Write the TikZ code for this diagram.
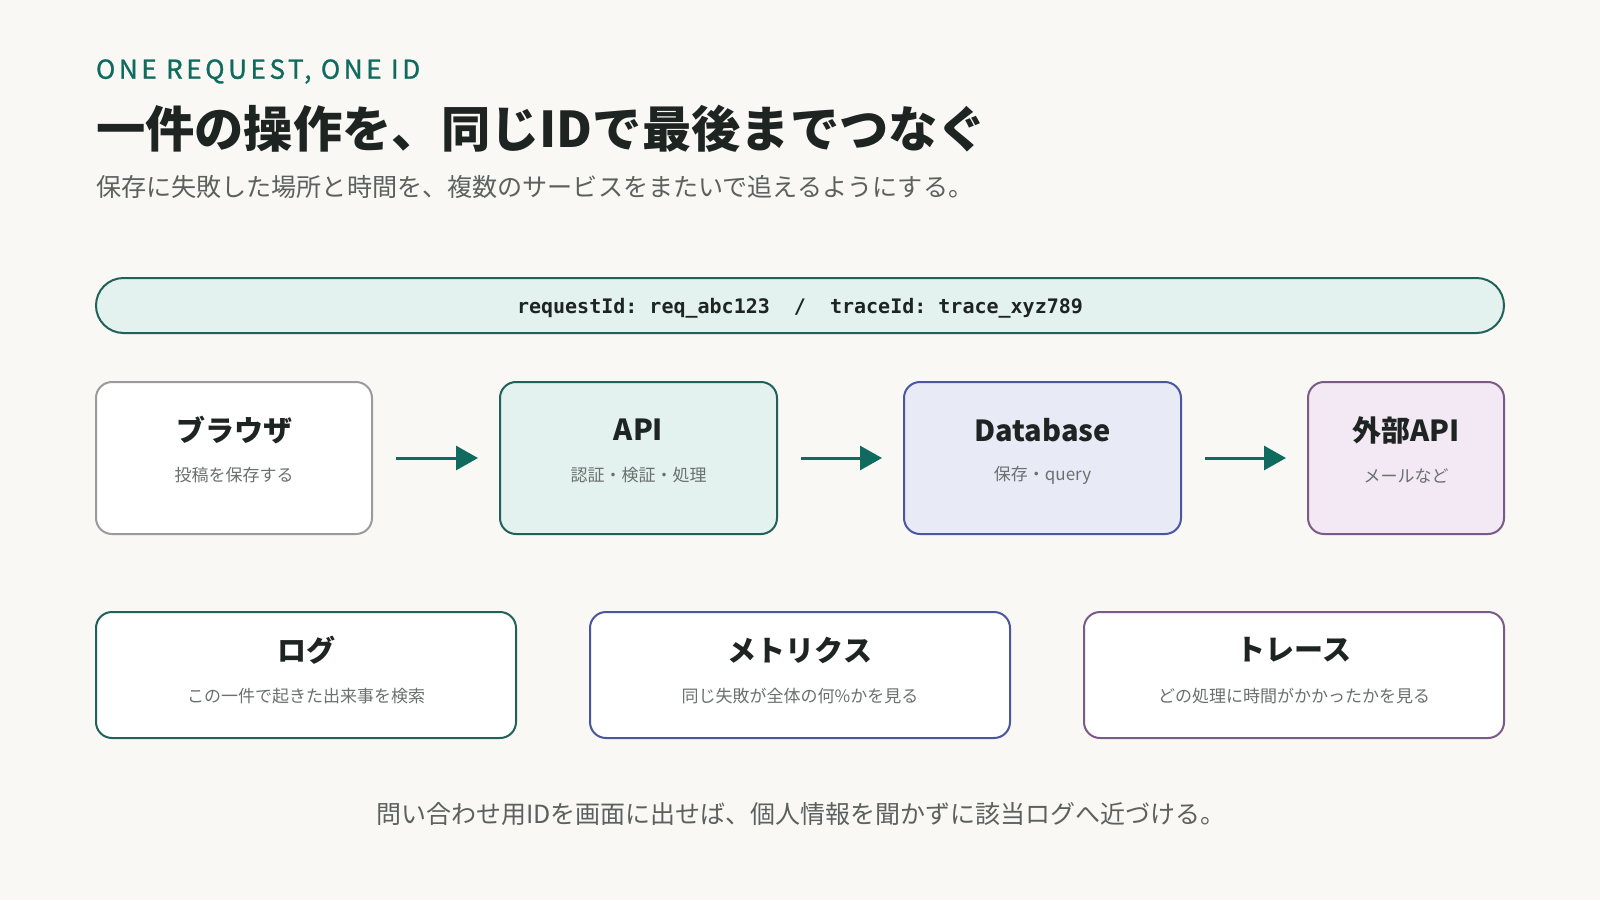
\documentclass[tikz,border=0pt]{standalone}
\usepackage{fontspec}
\setmainfont{Noto Sans CJK JP}
\newfontfamily\idfont{DejaVu Sans Mono}
\newfontfamily\kickerfont[LetterSpace=14,FakeBold=1.2]{Noto Sans CJK JP}
\usetikzlibrary{positioning,arrows.meta}
\definecolor{paper}{HTML}{F9F8F5}
\definecolor{ink}{HTML}{1E2422}
\definecolor{muted}{HTML}{5C615E}
\definecolor{soft}{HTML}{6B706D}
\definecolor{tealc}{HTML}{0F6B5E}
\definecolor{tealline}{HTML}{22605A}
\definecolor{tealfill}{HTML}{E3F2EE}
\definecolor{indline}{HTML}{4A56A0}
\definecolor{indfill}{HTML}{E8EAF6}
\definecolor{plmline}{HTML}{7A5A86}
\definecolor{plmfill}{HTML}{F3E9F4}
\definecolor{greyline}{HTML}{9B9B9B}
\frenchspacing

\begin{document}
\begin{tikzpicture}[x=1pt,y=-1pt,every node/.append style={inner sep=0pt,outer sep=0pt},
                    card/.style={draw,line width=2pt,rounded corners=16pt,fill=white},
                    cardtitle/.style={font=\fontsize{29}{32}\selectfont\bfseries,text=ink},
                    cardsub/.style={font=\fontsize{17}{20}\selectfont,text=soft},
                    flow/.style={line width=3pt,draw=tealc,-{Triangle[length=22pt,width=24pt]},
                                 shorten <=24pt,shorten >=22pt}]
    \fill[paper] (0,0) rectangle (1600,900);
    \node[anchor=west,text=tealc,font=\kickerfont\fontsize{26}{30}\selectfont] (kicker) at (96,71.5) {ONE REQUEST, ONE ID};
    \node[anchor=west,text=ink,font=\fontsize{49.3}{56}\selectfont\bfseries] (headline) at (96,129) {一件の操作を、同じIDで最後までつなぐ};
    \node[anchor=west,text=muted,font=\fontsize{25.1}{28}\selectfont] (lead) at (96,187) {保存に失敗した場所と時間を、複数のサービスをまたいで追えるようにする。};
    \node[draw=tealline,fill=tealfill,line width=2pt,rounded corners=27.5pt,
          minimum width=1408pt,minimum height=55pt] (ids) at (800,305.5) {};
    \node[text=ink,font=\idfont\fontsize{20}{24}\selectfont\bfseries] (idtext) at ([yshift=-3pt]ids.center)
          {requestId: req\_abc123\ \ /\ \ traceId: trace\_xyz789};
    \begin{scope}[every node/.append style={minimum height=152pt}]
      \node[card,draw=greyline,minimum width=276pt] (browser) at (234,458) {};
      \node[card,draw=tealline,fill=tealfill,minimum width=277pt] (api) at (638.5,458) {};
      \node[card,draw=indline,fill=indfill,minimum width=277pt] (db) at (1042.5,458) {};
      \node[card,draw=plmline,fill=plmfill,minimum width=196pt] (ext) at (1406,458) {};
    \end{scope}
    \node[cardtitle] (browsert) at ([yshift=28pt]browser.center) {ブラウザ};
    \node[cardsub] (browsers) at ([yshift=-17.5pt]browser.center) {投稿を保存する};
    \node[cardtitle] (apit) at ([yshift=28pt]api.center) {API};
    \node[cardsub] (apis) at ([yshift=-17.5pt]api.center) {認証・検証・処理};
    \node[cardtitle] (dbt) at ([yshift=28pt]db.center) {Database};
    \node[cardsub] (dbs) at ([yshift=-17.5pt]db.center) {保存・query};
    \node[cardtitle] (extt) at ([yshift=28pt]ext.center) {外部API};
    \node[cardsub] (exts) at ([yshift=-17.5pt]ext.center) {メールなど};
    \draw[flow] (browser) -- (api);
    \draw[flow] (api) -- (db);
    \draw[flow] (db) -- (ext);
    \begin{scope}[every node/.append style={minimum height=126pt,minimum width=420pt}]
      \node[card,draw=tealline] (logs) at (306,675) {};
      \node[card,draw=indline] (metrics) at (800,675) {};
      \node[card,draw=plmline] (traces) at (1294,675) {};
    \end{scope}
    \node[cardtitle] (logst) at ([yshift=25pt]logs.center) {ログ};
    \node[cardsub] (logss) at ([yshift=-21pt]logs.center) {この一件で起きた出来事を検索};
    \node[cardtitle] (metricst) at ([yshift=25pt]metrics.center) {メトリクス};
    \node[cardsub] (metricss) at ([yshift=-21pt]metrics.center) {同じ失敗が全体の何\%かを見る};
    \node[cardtitle] (tracest) at ([yshift=25pt]traces.center) {トレース};
    \node[cardsub] (tracess) at ([yshift=-21pt]traces.center) {どの処理に時間がかかったかを見る};
    \node[text=muted,font=\fontsize{25}{28}\selectfont] (footer) at (801,814)
          {問い合わせ用IDを画面に出せば、個人情報を聞かずに該当ログへ近づける。};
\end{tikzpicture}
\end{document}
